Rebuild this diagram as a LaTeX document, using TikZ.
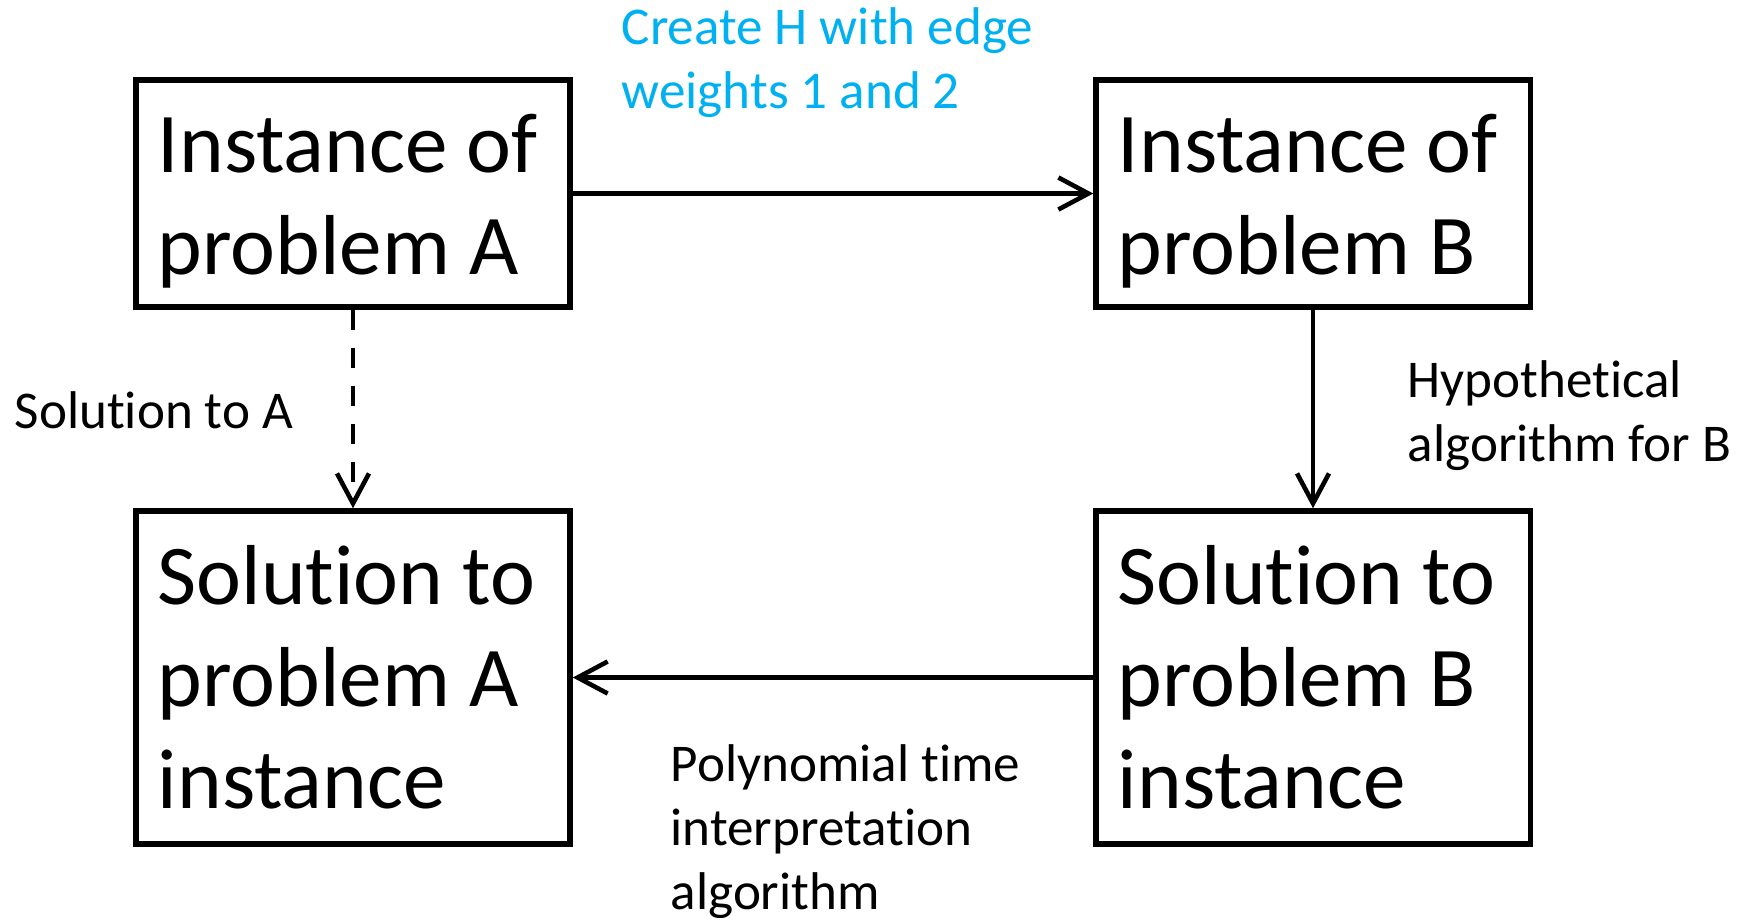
\documentclass[tikz,border=0pt]{standalone}
\usepackage{fontspec}
\setmainfont{Carlito}[RawFeature=-liga]
\usetikzlibrary{arrows.meta}
\definecolor{labelblue}{RGB}{0,176,240}

\tikzset{
  probbox/.style={draw, rectangle, line width=1.5pt, inner xsep=0.22cm,
    text width=3.9cm, align=left, minimum width=4.34cm,
    execute at begin node={\spaceskip=0pt\xspaceskip=0pt\relax},
    font=\fontsize{24.2}{29}\selectfont},
  steplabel/.style={anchor=base west, inner sep=0pt, align=left,
    font=\fontsize{15.1}{18.2}\selectfont},
  conn/.style={line width=1.3pt, -{Straight Barb[length=0.3cm,width=0.32cm]}}
}

\begin{document}
\begin{tikzpicture}[x=0.01cm,y=-0.01cm]

\useasboundingbox (0,0) rectangle (1746,917);

% Boxes
\node[probbox, minimum height=2.27cm] (instA) at (353,193.5)
    {\rule{0pt}{0.73cm}Instance of\\problem A};
\node[probbox, minimum height=2.27cm] (instB) at (1313,193.5)
    {\rule{0pt}{0.73cm}Instance of\\problem B};
\node[probbox, minimum height=3.33cm] (solA) at (353,677.5)
    {Solution to\\problem A\\instance};
\node[probbox, minimum height=3.33cm] (solB) at (1313,677.5)
    {Solution to\\problem B\\instance};

% Arrows
\draw[conn] (instA) -- (instB);
\draw[conn, dash pattern=on 0.2cm off 0.18cm] (instA) -- (solA);
\draw[conn] (instB) -- (solB);
\draw[conn] (solB) -- (solA);

% Labels (anchored at the last line)
\node[steplabel, text=labelblue] (lblcreate) at (621,108)
    {Create H with edge\\weights 1 and 2};
\node[steplabel] (lblsolA) at (14,428) {Solution to A};
\node[steplabel] (lblhyp) at (1407,461)
    {Hypothetical\\algorithm for B};
\node[steplabel] (lblpoly) at (670,909)
    {Polynomial time\\interpretation\\algorithm};

\end{tikzpicture}
\end{document}
